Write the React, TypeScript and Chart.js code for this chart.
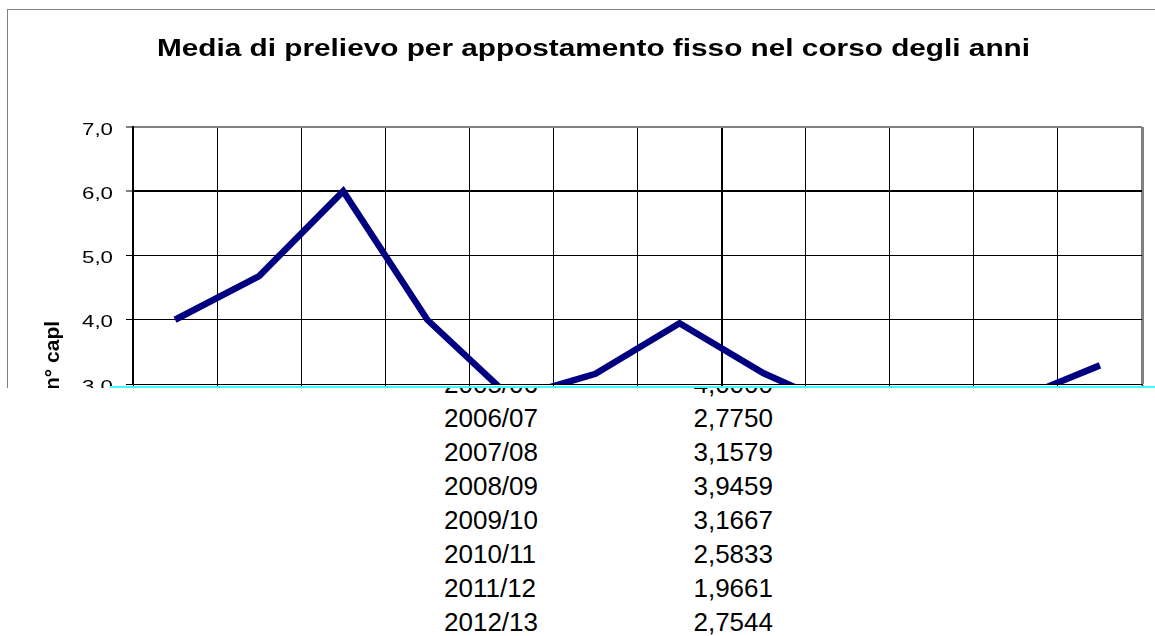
import React, { useEffect, useRef } from "react";
import { Chart, registerables } from "chart.js";

Chart.register(...registerables);

// ---- data ----
const TITLE = "Media di prelievo per appostamento fisso nel corso degli anni";
const Y_TITLE = "n° capl";
const stagioni = [
  "2002/03", "2003/04", "2004/05", "2005/06", "2006/07", "2007/08",
  "2008/09", "2009/10", "2010/11", "2011/12", "2012/13", "2013/14",
];
const mediaPrelievo = [4.0, 4.68, 6.0, 4.0, 2.775, 3.1579, 3.9459, 3.1667, 2.5833, 1.9661, 2.7544, 3.29];
const yMin = 3;
const yMax = 7;
const yStep = 1;
const tabellaStagioni = ["2005/06", "2006/07", "2007/08", "2008/09", "2009/10", "2010/11", "2011/12", "2012/13"];
const tabellaValori = [4.0, 2.775, 3.1579, 3.9459, 3.1667, 2.5833, 1.9661, 2.7544];

const FONT = '"Liberation Sans", Arial, sans-serif';
const fmt = (v: number, d: number) => v.toFixed(d).replace(".", ",");

const isEdge = (c: any) => c.type === "scale" || c.index === undefined || c.index >= stagioni.length;

const overlayPlugin = {
  id: "overlayText",
  afterDraw(chart: any) {
    const ctx = chart.ctx as CanvasRenderingContext2D;
    const ys = chart.scales.y;
    // title
    ctx.save();
    ctx.fillStyle = "#000";
    ctx.font = `bold 23px ${FONT}`;
    ctx.textAlign = "left";
    ctx.textBaseline = "alphabetic";
    const tw = ctx.measureText(TITLE).width;
    ctx.translate(157, 56);
    ctx.scale(873 / tw, 1);
    ctx.fillText(TITLE, 0, 0);
    ctx.restore();
    // y tick labels
    ctx.save();
    ctx.fillStyle = "#000";
    ctx.font = `16.5px ${FONT}`;
    ctx.textAlign = "right";
    ctx.textBaseline = "alphabetic";
    ys.ticks.forEach((t: any) => {
      const py = ys.getPixelForValue(t.value);
      ctx.save();
      ctx.translate(113, py + 7.5);
      ctx.scale(1.35, 1);
      ctx.fillText(fmt(t.value, 1), 0, 0);
      ctx.restore();
    });
    ctx.restore();
    // y axis title
    ctx.save();
    ctx.fillStyle = "#000";
    ctx.font = `bold 21px ${FONT}`;
    ctx.textAlign = "center";
    ctx.textBaseline = "alphabetic";
    ctx.translate(59, 355.5);
    ctx.rotate(-Math.PI / 2);
    ctx.fillText(Y_TITLE, 0, 0);
    ctx.restore();
  },
};

function ChartCanvas() {
  const ref = useRef<HTMLCanvasElement | null>(null);
  useEffect(() => {
    if (!ref.current) return;
    const chart = new Chart(ref.current, {
      type: "line",
      data: {
        labels: stagioni,
        datasets: [
          {
            data: mediaPrelievo,
            borderColor: "#000080",
            backgroundColor: "#000080",
            borderWidth: 6.5,
            pointRadius: 0,
            pointHoverRadius: 0,
            tension: 0,
            fill: false,
            borderJoinStyle: "miter",
          },
        ],
      },
      options: {
        animation: false,
        responsive: false,
        events: [],
        layout: { padding: { top: 127, right: 13, bottom: 0, left: 0 } },
        plugins: {
          legend: { display: false },
          title: { display: false },
          tooltip: { enabled: false },
        },
        scales: {
          x: {
            type: "category",
            offset: true,
            grid: {
              offset: true,
              drawOnChartArea: true,
              drawTicks: true,
              tickLength: 4,
              color: (c: any) => (isEdge(c) ? "#808080" : "#000"),
              tickColor: (c: any) => (isEdge(c) ? "#808080" : "#000"),
              lineWidth: (c: any) => (isEdge(c) ? 3 : c.index === 7 ? 2 : 1),
            },
            border: { display: true, color: "#000", width: 1 },
            ticks: { display: false },
            afterFit: (s: any) => {
              s.height = 4;
            },
          },
          y: {
            min: yMin,
            max: yMax,
            ticks: { display: false, stepSize: yStep },
            grid: {
              drawTicks: true,
              tickLength: 7,
              tickColor: "#000",
              tickWidth: 1,
              color: (c: any) => (c.tick && c.tick.value === yMax ? "#808080" : "#000"),
              lineWidth: (c: any) => (c.tick && (c.tick.value === yMax || c.tick.value === 6) ? 2 : 1),
            },
            border: { display: true, color: "#000", width: 2 },
            afterFit: (s: any) => {
              s.width = 133;
            },
          },
        },
      },
      plugins: [overlayPlugin],
    } as any);
    return () => chart.destroy();
  }, []);
  return (
    <canvas
      ref={ref}
      width={1155}
      height={388}
      style={{ position: "absolute", left: 0, top: 0, width: 1155, height: 388, zIndex: 2 }}
    />
  );
}

export default function App() {
  return (
    <div style={{ position: "absolute", left: 0, top: 0, width: 1155, height: 636, background: "#fff", overflow: "hidden" }}>
      <div
        style={{
          position: "absolute",
          left: 0,
          top: 367,
          width: 1155,
          zIndex: 0,
          fontFamily: FONT,
          fontSize: 26,
          lineHeight: "34px",
          color: "#000",
        }}
      >
        {tabellaStagioni.map((s, i) => (
          <div key={s} style={{ position: "relative", height: 34 }}>
            <span style={{ position: "absolute", left: 444 }}>{s}</span>
            <span style={{ position: "absolute", right: 1155 - 773 }}>{fmt(tabellaValori[i], 4)}</span>
          </div>
        ))}
      </div>
      <div
        style={{
          position: "absolute",
          left: 7,
          top: 9,
          width: 1148,
          height: 379,
          background: "#fff",
          borderTop: "1px solid #808080",
          borderLeft: "1px solid #808080",
          boxSizing: "border-box",
          zIndex: 1,
        }}
      />
      <ChartCanvas />
      <div style={{ position: "absolute", left: 110, top: 386, width: 1045, height: 2, background: "#40FFFF", zIndex: 3 }} />
    </div>
  );
}
